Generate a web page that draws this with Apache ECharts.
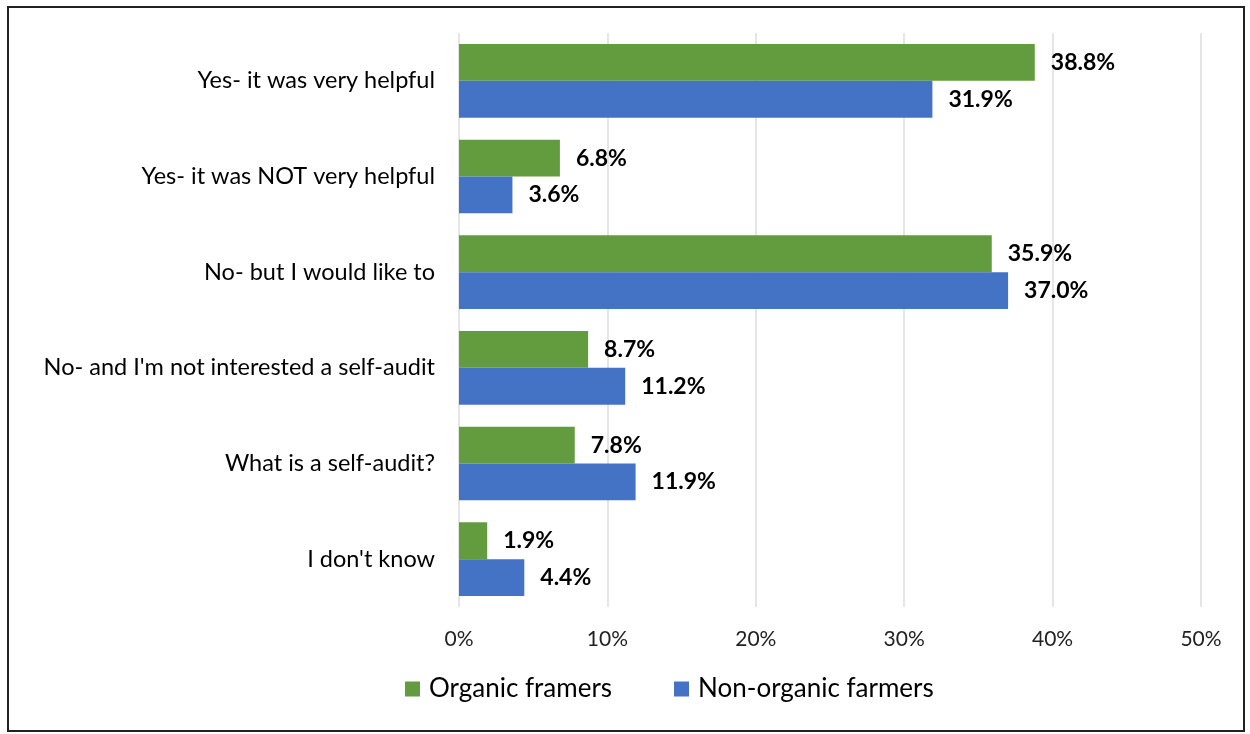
<!DOCTYPE html>
<html>
<head>
<meta charset="utf-8">
<script src="https://cdn.jsdelivr.net/npm/echarts@6/dist/echarts.min.js"></script>
<style>
  html, body { margin: 0; padding: 0; background: #fff; }
  #frame { position: absolute; left: 7px; top: 6px; width: 1238px; height: 726px; border: 2px solid #222; box-sizing: border-box; }
  #chart { position: absolute; left: 0; top: 0; width: 1250px; height: 734px; }
</style>
</head>
<body>
<div id="frame"></div>
<div id="chart"></div>
<script>
const categories = [
  'Yes- it was very helpful',
  'Yes- it was NOT very helpful',
  'No- but I would like to',
  "No- and I'm not interested a self-audit",
  'What is a self-audit?',
  "I don't know"
];
const organic = [38.8, 6.8, 35.9, 8.7, 7.8, 1.9];
const nonOrganic = [31.9, 3.6, 37.0, 11.2, 11.9, 4.4];
const seriesNames = ['Organic framers', 'Non-organic farmers'];
const xTicks = [0, 10, 20, 30, 40, 50];

const FONT = 'Lato, "Open Sans", sans-serif';
const chart = echarts.init(document.getElementById('chart'));

const valueLabel = {
  show: true,
  position: 'right',
  distance: 16,
  formatter: p => p.value.toFixed(1) + '%',
  fontFamily: FONT,
  fontWeight: 'bold',
  fontSize: 23,
  color: '#000'
};

chart.setOption({
  animation: false,
  backgroundColor: 'transparent',
  grid: { left: 459, right: 49, top: 33, bottom: 127, containLabel: false },
  legend: {
    top: 671,
    left: 400,
    itemWidth: 15,
    itemHeight: 15,
    itemGap: 62,
    icon: 'rect',
    textStyle: { fontFamily: FONT, fontSize: 26, color: '#000', padding: [0, 0, 0, 4] },
    data: seriesNames
  },
  xAxis: {
    type: 'value',
    min: xTicks[0],
    max: xTicks[xTicks.length - 1],
    interval: 10,
    axisLine: { show: false },
    axisTick: { show: false },
    axisLabel: {
      formatter: v => v + '%',
      fontFamily: FONT,
      fontSize: 21,
      color: '#222',
      margin: 22
    },
    splitLine: { show: true, lineStyle: { color: '#dcdcdc', width: 1.5 } }
  },
  yAxis: {
    type: 'category',
    inverse: true,
    data: categories,
    axisLine: { show: false },
    axisTick: { show: false },
    axisLabel: {
      fontFamily: FONT,
      fontSize: 23.5,
      color: '#000',
      margin: 24
    }
  },
  series: [
    {
      name: seriesNames[0],
      type: 'bar',
      data: organic,
      barGap: '0%',
      barCategoryGap: '23%',
      itemStyle: { color: '#639B3F' },
      label: valueLabel
    },
    {
      name: seriesNames[1],
      type: 'bar',
      data: nonOrganic,
      itemStyle: { color: '#4472C4' },
      label: valueLabel
    }
  ]
});
</script>
</body>
</html>
